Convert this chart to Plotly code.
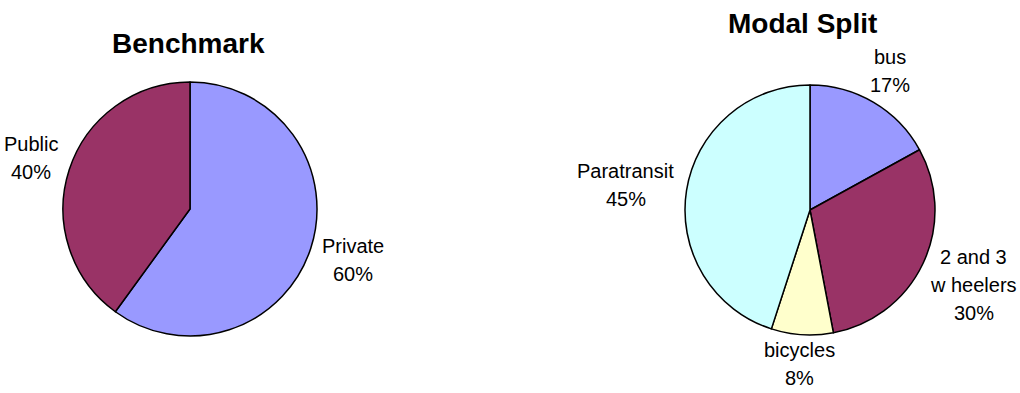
import math
import plotly.graph_objects as go

W, H = 1020, 393

bench_labels = ["Private", "Public"]
bench_values = [60, 40]
bench_colors = ["#9999FF", "#993366"]

modal_labels = ["bus", "2 and 3|w heelers", "bicycles", "Paratransit"]
modal_values = [17, 30, 8, 45]
modal_colors = ["#9999FF", "#993366", "#FFFFCC", "#CCFFFF"]

FONT = "Liberation Sans, Arial, sans-serif"
LABEL_SIZE = 20
LINE_STEP = 28
GAP = 13

# approximate Arial advance widths (em)
_W = {"i": .222, "l": .222, "j": .222, "t": .278, "f": .278, "r": .333, " ": .278,
      "c": .5, "s": .5, "v": .5, "y": .5, "k": .5, "x": .5, "z": .5,
      "m": .833, "w": .722, "%": .889, "P": .667}

def dom(cx, cy, r):
    return dict(x=[(cx - r) / W, (cx + r) / W], y=[(H - cy - r) / H, (H - cy + r) / H])

def text_width(s, size):
    return sum(_W.get(ch, .667 if ch.isupper() else .556) for ch in s) * size

def label_annotations(labels, values, cx, cy, r):
    anns = []
    total = sum(values)
    acc = 0
    for lab, v in zip(labels, values):
        mid = (acc + v / 2) / total * 2 * math.pi
        acc += v
        s, cs = math.sin(mid), -math.cos(mid)
        lines = lab.split("|") + [f"{round(v / total * 100)}%"]
        n = len(lines)
        w = max(text_width(t, LABEL_SIZE) for t in lines)
        h = (n - 1) * LINE_STEP + 20
        px, py = cx + s * (r + GAP), cy + cs * (r + GAP)
        bx, by = px + s * w / 2, py + cs * h / 2
        # keep the block inside the page
        bottom = by + (n - 1) / 2 * LINE_STEP + 14
        if bottom > H - 1:
            by -= bottom - (H - 1)
        top = by - (n - 1) / 2 * LINE_STEP - 14
        if top < 1:
            by += 1 - top
        for i, t in enumerate(lines):
            y = by + (i - (n - 1) / 2) * LINE_STEP
            anns.append(dict(text=t, x=bx / W, y=1 - y / H, xref="paper", yref="paper",
                             showarrow=False, xanchor="center", yanchor="middle",
                             font=dict(size=LABEL_SIZE, family=FONT, color="black")))
    return anns

BENCH_C = (190, 209, 127)
MODAL_C = (810, 210, 125)

fig = go.Figure()
fig.add_trace(go.Pie(
    labels=bench_labels, values=bench_values, sort=False, direction="clockwise", rotation=0,
    marker=dict(colors=bench_colors, line=dict(color="black", width=1.5)),
    textinfo="none", domain=dom(*BENCH_C), showlegend=False, hoverinfo="label+percent",
))
fig.add_trace(go.Pie(
    labels=[l.replace("|", " ") for l in modal_labels], values=modal_values, sort=False,
    direction="clockwise", rotation=0,
    marker=dict(colors=modal_colors, line=dict(color="black", width=1.5)),
    textinfo="none", domain=dom(*MODAL_C), showlegend=False, hoverinfo="label+percent",
))

annotations = [
    dict(text="<b>Benchmark</b>", x=188 / W, y=1 - 43 / H, xref="paper", yref="paper",
         showarrow=False, font=dict(size=28, family=FONT, color="black"),
         xanchor="center", yanchor="middle"),
    dict(text="<b>Modal Split</b>", x=802 / W, y=1 - 23 / H, xref="paper", yref="paper",
         showarrow=False, font=dict(size=28, family=FONT, color="black"),
         xanchor="center", yanchor="middle"),
]
annotations += label_annotations(bench_labels, bench_values, *BENCH_C)
annotations += label_annotations(modal_labels, modal_values, *MODAL_C)

fig.update_layout(
    width=W, height=H, margin=dict(l=0, r=0, t=0, b=0),
    paper_bgcolor="white", plot_bgcolor="white",
    font=dict(family=FONT, color="black"),
    annotations=annotations,
)

fig.write_html("out.html")
